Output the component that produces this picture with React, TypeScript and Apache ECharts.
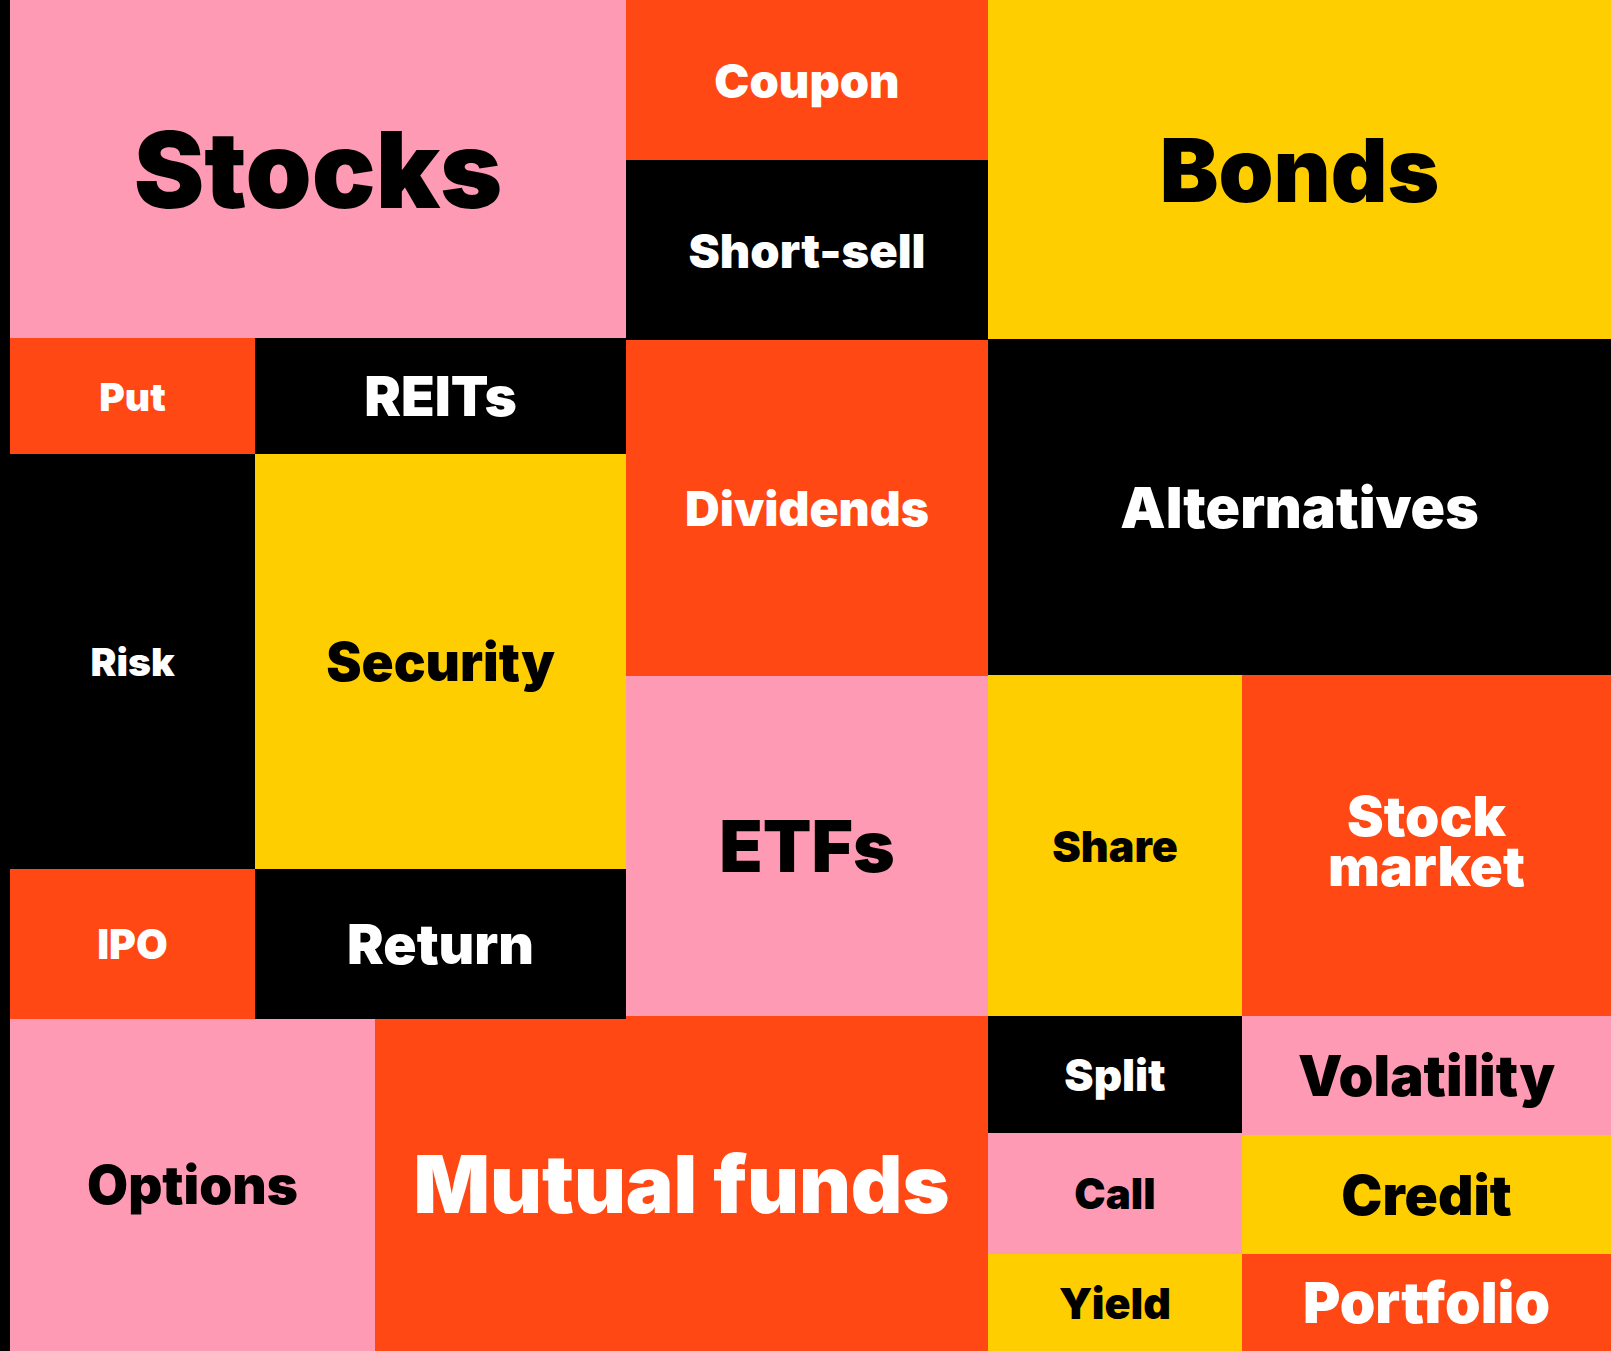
import React, { useEffect, useRef } from "react";
import * as echarts from "echarts";

// Treemap-like tiles: name, extent in layout units (x: 0..1601, y: 0..1351), colour group
const names = [
  "Stocks", "Coupon", "Short-sell", "Bonds",
  "Put", "REITs", "Risk", "Security",
  "Dividends", "Alternatives", "ETFs", "Share", "Stock\nmarket",
  "Mutual funds", "Options", "IPO", "Return",
  "Split", "Call", "Yield", "Volatility", "Credit", "Portfolio",
];
const xStart = [0, 616, 616, 978, 0, 245, 0, 245, 616, 978, 616, 978, 1232, 365, 0, 0, 245, 978, 978, 978, 1232, 1232, 1232];
const xEnd = [616, 978, 978, 1601, 245, 616, 245, 616, 978, 1601, 978, 1232, 1601, 978, 365, 245, 616, 1232, 1232, 1232, 1601, 1601, 1601];
const yStart = [0, 0, 160, 0, 338, 338, 454, 454, 340, 339, 676, 675, 675, 1016, 1019, 869, 869, 1016, 1133, 1254, 1016, 1135, 1254];
const yEnd = [338, 160, 340, 339, 454, 454, 869, 869, 676, 675, 1016, 1016, 1016, 1351, 1351, 1019, 1019, 1133, 1254, 1351, 1135, 1254, 1351];
const groups = [
  "pink", "orange", "black", "yellow",
  "orange", "black", "black", "yellow",
  "orange", "black", "pink", "yellow", "orange",
  "orange", "pink", "orange", "black",
  "black", "pink", "yellow", "pink", "yellow", "orange",
];

// styles
const palette: Record<string, string> = {
  pink: "#FF9AB4",
  orange: "#FF4814",
  black: "#000000",
  yellow: "#FFCE00",
};
const inkOn: Record<string, string> = {
  pink: "#000000",
  yellow: "#000000",
  orange: "#FFFFFF",
  black: "#FFFFFF",
};
const fontSizes: Record<string, number> = {
  Stocks: 106,
  Coupon: 47,
  "Short-sell": 47,
  Bonds: 88,
  Put: 39,
  REITs: 55,
  Risk: 39,
  Security: 53,
  Dividends: 48,
  Alternatives: 57,
  ETFs: 71,
  Share: 43,
  "Stock\nmarket": 55,
  "Mutual funds": 80,
  Options: 53,
  IPO: 41,
  Return: 55,
  Split: 44,
  Call: 42,
  Yield: 43,
  Volatility: 56,
  Credit: 55,
  Portfolio: 57,
};

const W = 1611;
const H = 1351;

export default function App() {
  const ref = useRef<HTMLDivElement>(null);

  useEffect(() => {
    document.body.style.margin = "0";
    document.body.style.background = "#000";
    const chart = echarts.init(ref.current as HTMLDivElement, undefined, { renderer: "svg" });
    const data = names.map((n, i) => [xStart[i], xEnd[i], yStart[i], yEnd[i], i]);
    chart.setOption({
      animation: false,
      backgroundColor: "#000000",
      grid: { left: 10, right: 0, top: 0, bottom: 0 },
      xAxis: { type: "value", min: 0, max: 1601, show: false },
      yAxis: { type: "value", min: 0, max: 1351, inverse: true, show: false },
      series: [
        {
          type: "custom",
          encode: { x: [0, 1], y: [2, 3] },
          data,
          renderItem: (params: any, api: any) => {
            const i = api.value(4) as number;
            const p0 = api.coord([api.value(0), api.value(2)]);
            const p1 = api.coord([api.value(1), api.value(3)]);
            const g = groups[i];
            const fs = fontSizes[names[i]];
            const multi = names[i].indexOf("\n") >= 0;
            return {
              type: "group",
              children: [
                {
                  type: "rect",
                  shape: { x: p0[0], y: p0[1], width: p1[0] - p0[0], height: p1[1] - p0[1] },
                  style: { fill: palette[g] },
                },
                {
                  type: "text",
                  x: (p0[0] + p1[0]) / 2,
                  y: (p0[1] + p1[1]) / 2 - (multi ? 5 : 0),
                  style: {
                    text: names[i],
                    fill: inkOn[g],
                    fontSize: fs,
                    fontWeight: 900,
                    fontFamily: "Inter",
                    align: "center",
                    verticalAlign: "middle",
                    lineHeight: Math.round(fs * 0.9),
                  },
                },
              ],
            };
          },
        },
      ],
    });
    return () => chart.dispose();
  }, []);

  return <div ref={ref} style={{ width: W, height: H }} />;
}
